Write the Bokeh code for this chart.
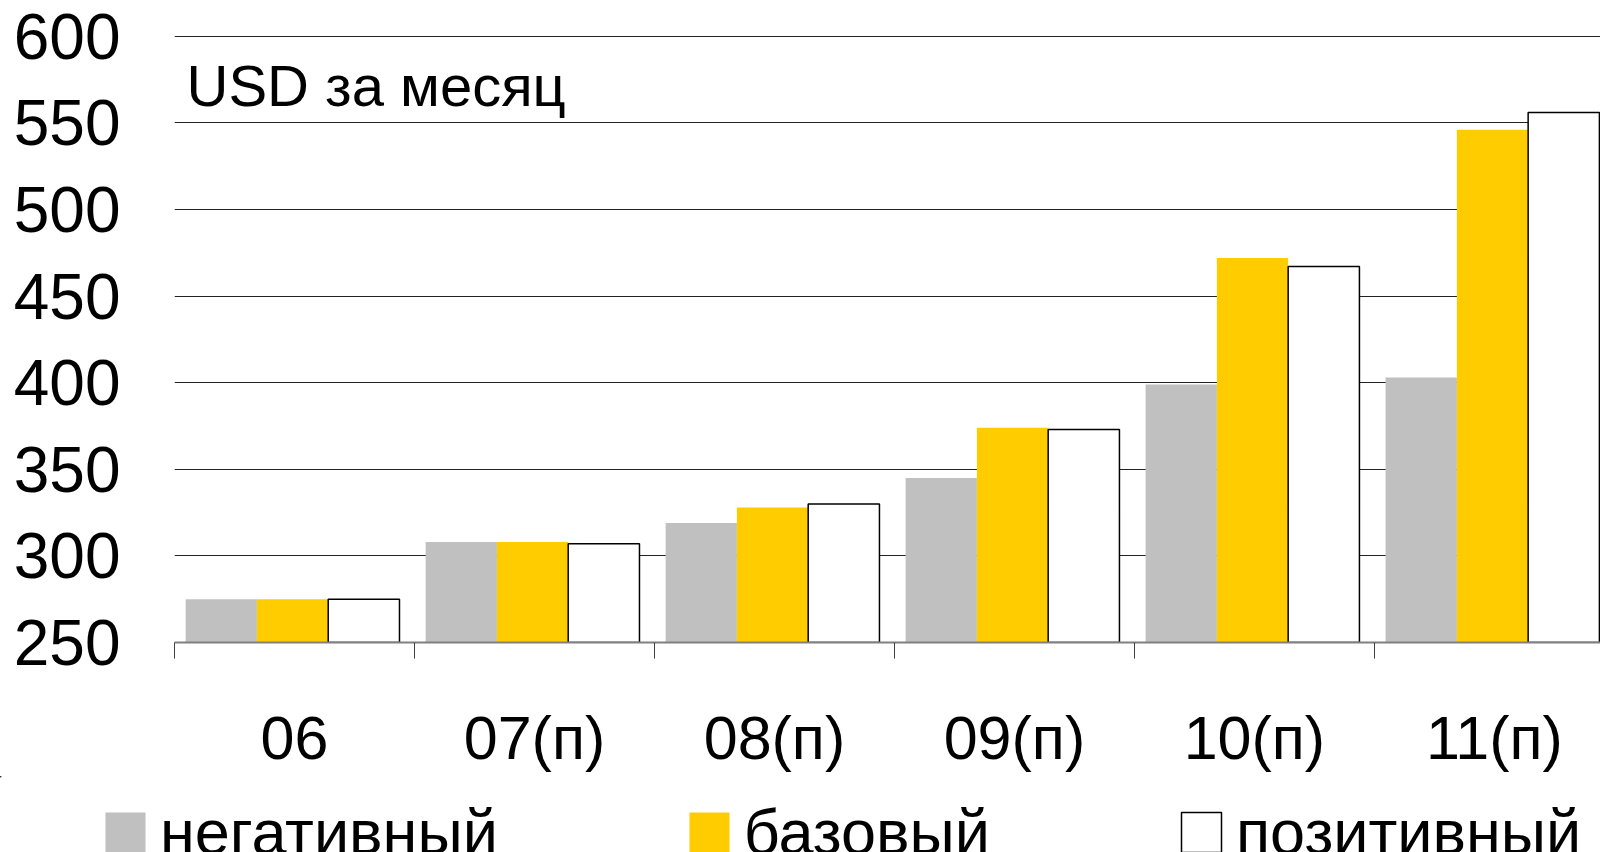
from bokeh.plotting import figure
from bokeh.models import Range1d, FixedTicker, ColumnDataSource, Legend, LegendItem, Label
from bokeh.transform import dodge
from bokeh.embed import file_html
from bokeh.resources import INLINE

categories = ["06", "07(п)", "08(п)", "09(п)", "10(п)", "11(п)"]
negative = [275, 308, 319, 345, 399, 403]
base = [275, 308, 328, 374, 472, 546]
positive = [275, 307, 330, 373, 467, 556]
series_names = ["негативный", "базовый", "позитивный"]
y_ticks = [250, 300, 350, 400, 450, 500, 550, 600]
unit_label = "USD за месяц"

FONT = "Liberation Sans"
COLORS = ["#C0C0C0", "#FFCC00", "white"]
LINES = [None, None, "black"]
FIELDS = ["neg", "base", "pos"]
n = len(categories)
centers = [i + 0.492 for i in range(n)]
src = ColumnDataSource(dict(x=centers, neg=negative, base=base, pos=positive))

MAIN_H = 776
p = figure(width=1600, height=MAIN_H, output_backend="svg", toolbar_location=None,
           x_range=Range1d(0, 5.942), y_range=Range1d(250, 601),
           min_border_left=174, min_border_right=0, min_border_top=34,
           min_border_bottom=MAIN_H - 642)
p.outline_line_color = None
p.background_fill_color = "white"
p.border_fill_color = "white"

bw = 0.297
offsets = [-bw, 0, bw]
for off, col, fc, lc in zip(offsets, FIELDS, COLORS, LINES):
    p.vbar(x=dodge("x", off, range=p.x_range), top=col, bottom=250, width=bw, source=src,
           fill_color=fc, line_color=lc, line_width=1.5)

# x axis: labels at group centers, minor ticks at group boundaries
xt = FixedTicker(ticks=[i + 0.5 for i in range(n)], minor_ticks=list(range(n + 1)))
xa = p.xaxis[0]
xa.ticker = xt
xa.major_label_overrides = {i + 0.5: c for i, c in enumerate(categories)}
xa.major_tick_line_color = None
xa.major_tick_out = 0
xa.major_tick_in = 0
xa.minor_tick_out = 16
xa.minor_tick_in = 0
xa.minor_tick_line_color = "#404040"
xa.axis_line_color = "#808080"
xa.axis_line_width = 2
xa.major_label_standoff = 45
xa.major_label_text_font = FONT
xa.major_label_text_font_size = "61px"
xa.major_label_text_color = "black"
p.xgrid.grid_line_color = None

ya = p.yaxis[0]
ya.ticker = FixedTicker(ticks=y_ticks)
ya.axis_line_color = None
ya.major_tick_line_color = None
ya.minor_tick_line_color = None
ya.major_tick_out = 0
ya.major_label_standoff = 54
ya.major_label_text_font = FONT
ya.major_label_text_font_size = "64px"
ya.major_label_text_color = "black"
p.ygrid.ticker = FixedTicker(ticks=y_ticks)
p.ygrid.grid_line_color = "#222222"
p.ygrid.grid_line_width = 1.2

p.add_layout(Label(x=0.05, y=571.3, text=unit_label, text_font=FONT,
                   text_font_size="58px", text_color="black", text_baseline="alphabetic"))

# legend strip below the chart: a separate root so its frame spans the full width
LEG_H = 852 - MAIN_H
lg = figure(width=1600, height=LEG_H, output_backend="svg", toolbar_location=None,
            x_range=Range1d(7, 8), y_range=Range1d(0, 200),
            x_axis_location=None, y_axis_location=None,
            min_border_left=0, min_border_right=0, min_border_top=0, min_border_bottom=0)
lg.grid.visible = False
lg.outline_line_color = None
lg.border_fill_color = "white"
lg.background_fill_color = "white"
items = []
for name, col, fc, lc in zip(series_names, FIELDS, COLORS, LINES):
    # bars lie outside this strip's visible ranges; only their legend keys show
    r = lg.vbar(x="x", top=col, bottom=250, width=bw, source=src,
                fill_color=fc, line_color=lc, line_width=1.5)
    items.append(LegendItem(label=name, renderers=[r]))
legend = Legend(items=items, orientation="horizontal", location=(100, -16),
                glyph_width=50, glyph_height=50, label_standoff=10, spacing=186,
                padding=0, margin=0, border_line_color=None, background_fill_alpha=0,
                label_text_font=FONT, label_text_font_size="63px", label_text_color="black")
lg.add_layout(legend)

open("out.html", "w").write(file_html([p, lg], INLINE))
